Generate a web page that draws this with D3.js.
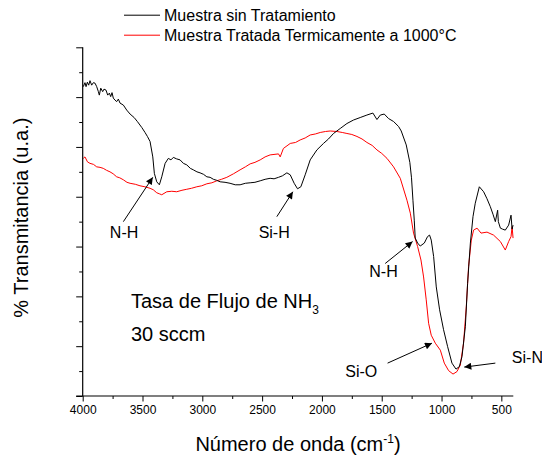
<!DOCTYPE html>
<html>
<head>
<meta charset="utf-8">
<script src="https://cdn.jsdelivr.net/npm/d3@7"></script>
<style>
  html, body { margin: 0; padding: 0; background: #fff; }
  svg { display: block; font-family: "Liberation Sans", Arial, sans-serif; }
</style>
</head>
<body>
<svg id="chart" width="542" height="460"></svg>
<script>
// FTIR spectra: wavenumber (cm^-1) and transmittance (arbitrary units)
const untreatedWavenumber = [3995,3981,3972,3961,3950,3939,3925,3911,3897,3883,3869,3861,3849,3833,3822,3805,3791,3777,3766,3755,3744,3730,3716,3702,3688,3660,3632,3604,3570,3543,3506,3479,3459,3437,3414,3401,3381,3359,3339,3311,3284,3262,3242,3215,3186,3158,3130,3100,3075,3045,3019,2990,2962,2935,2907,2880,2851,2810,2768,2725,2684,2640,2600,2560,2516,2475,2433,2400,2363,2330,2293,2265,2232,2204,2176,2140,2098,2042,1987,1945,1903,1847,1791,1736,1680,1624,1574,1540,1512,1479,1443,1401,1359,1337,1295,1265,1251,1239,1228,1220,1200,1178,1144,1117,1100,1086,1066,1044,1016,983,949,913,879,851,829,801,782,759,737,718,684,648,620,592,570,550,531,525,508,490,467,439,419,410,402];
const untreatedValue = [62.1,62.9,62.1,63.0,62.4,63.3,62.4,62.9,62.8,62.1,61.1,60.4,61.8,61.1,61.6,61.4,60.4,60.8,60.1,60.9,59.8,59.4,59.1,59.6,58.8,58.4,57.4,56.6,55.9,55.1,53.9,52.9,52.1,51.1,48.0,44.7,43.0,42.4,44.0,46.7,47.7,47.4,47.9,47.6,47.4,46.7,46.4,45.7,45.4,45.0,44.8,44.5,44.0,43.9,43.5,43.3,43.0,42.9,42.7,42.4,42.4,42.7,42.8,42.9,43.2,43.5,43.7,43.6,43.9,44.2,44.8,44.4,42.7,41.6,42.0,44.4,47.4,49.4,50.7,51.6,52.7,53.7,54.7,55.4,55.9,56.4,56.8,55.5,56.4,56.6,55.7,55.1,54.1,53.2,50.4,46.9,43.8,39.3,35.3,31.7,30.7,30.1,30.7,32.0,32.3,31.3,28.0,21.9,17.3,13.3,9.9,6.6,5.4,5.9,7.9,13.9,22.6,30.7,36.0,38.7,42.0,41.0,39.6,38.0,36.5,35.0,37.3,35.0,33.7,33.5,33.3,34.3,36.3,33.5,34.3];

const treatedWavenumber = [3995,3981,3960,3939,3910,3883,3855,3828,3800,3772,3745,3716,3690,3660,3630,3604,3560,3521,3480,3437,3410,3381,3360,3339,3297,3255,3214,3170,3130,3090,3046,3005,2962,2920,2879,2840,2795,2740,2684,2640,2600,2560,2516,2475,2433,2363,2349,2322,2265,2220,2182,2140,2098,2055,2014,1970,1931,1875,1830,1791,1750,1707,1665,1624,1580,1540,1500,1456,1401,1345,1289,1261,1234,1200,1172,1150,1128,1108,1086,1052,1010,977,941,904,871,843,816,793,774,751,732,703,670,620,565,508,467,439,419,410,402];
const treatedValue = [47.7,48.0,47.0,46.7,46.5,46.0,45.9,45.7,45.3,45.0,44.6,44.0,43.8,43.4,42.9,42.7,42.5,42.2,42.0,41.7,41.4,40.8,40.6,40.4,41.0,41.1,41.0,41.3,41.5,41.7,42.0,42.2,42.6,42.8,43.2,43.5,43.9,44.6,45.4,46.0,46.6,46.9,47.4,48.0,48.4,48.6,48.0,49.7,50.7,50.9,51.4,51.8,52.4,52.6,52.9,53.1,53.2,53.1,52.9,52.7,52.5,52.1,51.6,50.9,50.3,49.4,48.7,47.7,46.0,43.7,39.3,36.7,32.7,30.0,27.3,23.9,19.3,14.6,12.2,10.6,9.2,6.6,5.1,4.4,4.9,6.2,10.6,17.9,26.0,31.3,33.3,33.7,32.7,32.9,32.3,31.0,29.3,31.0,32.0,34.0,31.7];

const seriesNames = ["Muestra sin Tratamiento", "Muestra Tratada Termicamente a 1000°C"];
const seriesColors = ["#000000", "#ff0000"];

const xMajorTicks = [4000,3500,3000,2500,2000,1500,1000,500];
const xMinorTicks = [3750,3250,2750,2250,1750,1250,750];
const yMajorTicks = [0,10,20,30,40,50,60,70];
const yMinorTicks = [5,15,25,35,45,55,65];

// Band assignments: label position, arrow tail and arrow head (wavenumber, value)
const bandLabels = ["N-H", "Si-H", "N-H", "Si-O", "Si-N"];
const bandLabelPos = [[3654,32.9],[2399,32.9],[1485,25.0],[1671,5.0],[282,7.7]];
const bandArrowTail = [[3660,35.0],[2377,36.0],[1471,26.6],[1451,6.6],[550,6.6]];
const bandArrowHead = [[3414,43.9],[2243,41.0],[1242,31.0],[1080,10.6],[810,5.8]];

const svg = d3.select("#chart");
const plotLeft = 82.7, plotRight = 513.3, plotTop = 47.3, plotBottom = 396;

const x = d3.scaleLinear().domain([4000, 400]).range([plotLeft, plotRight]);
const y = d3.scaleLinear().domain([0, 70]).range([plotBottom, plotTop]);

// arrow marker
svg.append("defs").append("marker")
  .attr("id", "arrowHead")
  .attr("viewBox", "0 0 10 10")
  .attr("refX", 10).attr("refY", 5)
  .attr("markerUnits", "userSpaceOnUse")
  .attr("markerWidth", 8).attr("markerHeight", 7)
  .attr("orient", "auto")
  .append("path").attr("d", "M0,0 L10,5 L0,10 Z").attr("fill", "#000");

// spectra
const line = d3.line().x(d => x(d[0])).y(d => y(d[1]));
const series = [
  d3.zip(untreatedWavenumber, untreatedValue),
  d3.zip(treatedWavenumber, treatedValue)
];
// treated first so untreated is on top
[1, 0].forEach(i => {
  svg.append("path")
    .datum(series[i])
    .attr("fill", "none")
    .attr("stroke", seriesColors[i])
    .attr("stroke-width", 1)
    .attr("stroke-linejoin", "round")
    .attr("d", line);
});

// axes
function styleAxis(g) {
  g.selectAll("path.domain").remove();
  g.selectAll("line").attr("stroke", "#000").attr("stroke-width", 1);
}
svg.append("g").attr("transform", `translate(0,${plotBottom})`)
  .call(d3.axisBottom(x).tickValues(xMajorTicks).tickSize(5.5).tickPadding(4).tickFormat(d3.format("d")))
  .call(styleAxis)
  .call(g => g.selectAll("text").attr("font-size", 12).attr("fill", "#000")
    .attr("font-family", "Liberation Sans, Arial, sans-serif"));
svg.append("g").attr("transform", `translate(0,${plotBottom})`)
  .call(d3.axisBottom(x).tickValues(xMinorTicks).tickSize(3).tickFormat(""))
  .call(styleAxis);
svg.append("g").attr("transform", `translate(${plotLeft},0)`)
  .call(d3.axisLeft(y).tickValues(yMajorTicks).tickSize(6.5).tickFormat(""))
  .call(styleAxis);
svg.append("g").attr("transform", `translate(${plotLeft},0)`)
  .call(d3.axisLeft(y).tickValues(yMinorTicks).tickSize(3.5).tickFormat(""))
  .call(styleAxis);
svg.append("line")
  .attr("x1", x(4000) - 6.5).attr("x2", x(400))
  .attr("y1", y(0)).attr("y2", y(0))
  .attr("stroke", "#000").attr("stroke-width", 1.2);
svg.append("line")
  .attr("x1", x(4000)).attr("x2", x(4000))
  .attr("y1", y(0)).attr("y2", y(70))
  .attr("stroke", "#000").attr("stroke-width", 1.2);

// axis titles
const xTitle = svg.append("text")
  .attr("x", (plotLeft + plotRight) / 2).attr("y", 451)
  .attr("text-anchor", "middle").attr("font-size", 20);
xTitle.append("tspan").text("Número de onda (cm");
xTitle.append("tspan").attr("dy", -8).attr("font-size", 12).text("-1");
xTitle.append("tspan").attr("dy", 8).text(")");

svg.append("text")
  .attr("transform", `translate(27.5,${(plotTop + plotBottom) / 2 - 4}) rotate(-90)`)
  .attr("text-anchor", "middle").attr("font-size", 20)
  .text("% Transmitancia (u.a.)");

// legend
seriesNames.forEach((name, i) => {
  const ly = 15.2 + i * 20;
  svg.append("line").attr("x1", 124).attr("x2", 160).attr("y1", ly).attr("y2", ly)
    .attr("stroke", seriesColors[i]).attr("stroke-width", 1);
  svg.append("text").attr("x", 164).attr("y", ly + 5.6).attr("font-size", 16).text(name);
});

// flow-rate note
const note = svg.append("text").attr("x", 131).attr("y", 308.3).attr("font-size", 20);
note.append("tspan").text("Tasa de Flujo de NH");
note.append("tspan").attr("dy", 6).attr("font-size", 12).text("3");
svg.append("text").attr("x", 131).attr("y", 340.7).attr("font-size", 20).text("30 sccm");

// band annotations
bandLabels.forEach((lab, i) => {
  svg.append("line")
    .attr("x1", x(bandArrowTail[i][0])).attr("y1", y(bandArrowTail[i][1]))
    .attr("x2", x(bandArrowHead[i][0])).attr("y2", y(bandArrowHead[i][1]))
    .attr("stroke", "#000").attr("stroke-width", 1)
    .attr("marker-end", "url(#arrowHead)");
  svg.append("text")
    .attr("x", x(bandLabelPos[i][0])).attr("y", y(bandLabelPos[i][1]) + 5.7)
    .attr("text-anchor", "middle").attr("font-size", 16)
    .text(lab);
});
</script>
</body>
</html>
